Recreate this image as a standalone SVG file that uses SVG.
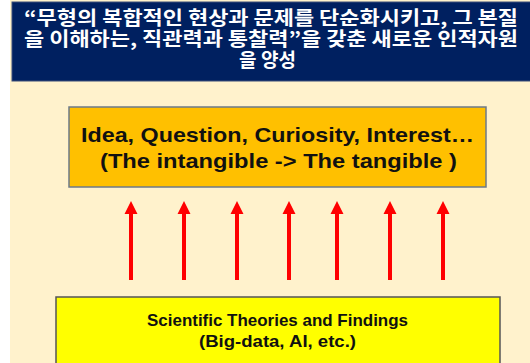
<svg xmlns="http://www.w3.org/2000/svg" width="530" height="363" viewBox="0 0 530 363">
  <defs>
    <style>
      .hdr { font-family: "Noto Sans CJK KR", "Noto Sans", sans-serif; font-weight: bold; font-size: 19px; fill: #ffffff; }
      .lbl { font-family: "Liberation Sans", Arial, sans-serif; font-weight: bold; fill: #111111; }
      .arrow { fill: #ff0000; }
    </style>
    <path id="up" d="M-2,280 V214 H-6.5 L0,201 L6.5,214 H2 V280 Z"/>
  </defs>
  <rect x="0" y="0" width="530" height="363" fill="#ffffff"/>
  <rect x="10" y="0" width="520" height="363" fill="#fff2cc"/>

  <g id="header">
    <rect x="12" y="2" width="530" height="79" fill="#002060" stroke="#3a4d78" stroke-width="1"/>
    <text class="hdr" x="271" y="25" text-anchor="middle" textLength="494" lengthAdjust="spacingAndGlyphs">“무형의 복합적인 현상과 문제를 단순화시키고, 그 본질</text>
    <text class="hdr" x="271" y="46" text-anchor="middle" textLength="494" lengthAdjust="spacingAndGlyphs">을 이해하는, 직관력과 통찰력”을 갖춘 새로운 인적자원</text>
    <text class="hdr" x="267.5" y="66.5" text-anchor="middle">을 양성</text>
  </g>

  <g id="ideas">
    <rect x="69" y="107" width="417" height="80" fill="#ffc000" stroke="#6c7a89" stroke-width="1.5"/>
    <text class="lbl" x="277.5" y="142" font-size="21" text-anchor="middle" textLength="393" lengthAdjust="spacingAndGlyphs">Idea, Question, Curiosity, Interest…</text>
    <text class="lbl" x="278.5" y="168" font-size="21" text-anchor="middle" textLength="357" lengthAdjust="spacingAndGlyphs">(The intangible -&gt; The tangible )</text>
  </g>

  <g id="connectors">
    <use href="#up" class="arrow" x="131"/>
    <use href="#up" class="arrow" x="184"/>
    <use href="#up" class="arrow" x="237"/>
    <use href="#up" class="arrow" x="289"/>
    <use href="#up" class="arrow" x="337"/>
    <use href="#up" class="arrow" x="390"/>
    <use href="#up" class="arrow" x="443"/>
  </g>

  <g id="science">
    <rect x="56" y="297" width="444" height="80" fill="#ffff00" stroke="#555555" stroke-width="1.5"/>
    <text class="lbl" x="277.5" y="326" font-size="17" text-anchor="middle" textLength="261" lengthAdjust="spacingAndGlyphs">Scientific Theories and Findings</text>
    <text class="lbl" x="277.5" y="347" font-size="17" text-anchor="middle" textLength="157" lengthAdjust="spacingAndGlyphs">(Big-data, AI, etc.)</text>
  </g>
</svg>
